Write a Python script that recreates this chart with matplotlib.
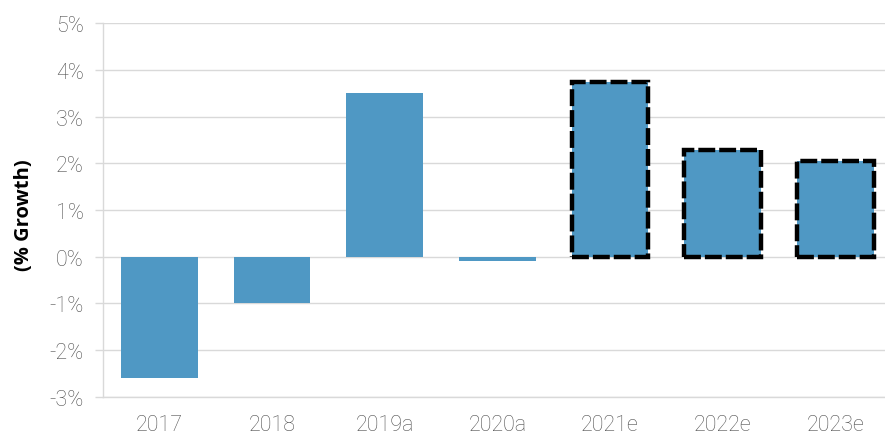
import matplotlib
matplotlib.use("Agg")
import matplotlib.pyplot as plt

# Annual growth, actuals and estimates
categories = ["2017", "2018", "2019a", "2020a", "2021e", "2022e", "2023e"]
growth_pct = [-2.6, -1.0, 3.5, -0.1, 3.73, 2.29, 2.05]
is_estimate = [False, False, False, False, True, True, True]
y_ticks = [-3, -2, -1, 0, 1, 2, 3, 4, 5]

plt.rcParams["font.family"] = ["Roboto", "DejaVu Sans"]

fig = plt.figure(figsize=(8.85, 4.35), dpi=100)
ax = fig.add_axes([0.1164, 0.0851, 0.8913, 0.8597])

bar_color = "#4f98c4"
grid_color = "#d9d9d9"
text_color = "#505050"

x = list(range(len(categories)))
bars = ax.bar(x, growth_pct, width=0.68, color=bar_color, zorder=2)
for b, est in zip(bars, is_estimate):
    if est:
        b.set_edgecolor("black")
        b.set_linewidth(3.2)
        b.set_linestyle((0, (3.8, 0.9)))

ax.set_xlim(-0.5, len(categories) - 0.5)
ax.set_ylim(-3, 5)
ax.set_yticks(y_ticks)
ax.set_yticklabels([f"{t}%" for t in y_ticks], fontweight="light")
ax.set_xticks(x)
ax.set_xticklabels(categories, fontweight="light")

ax.yaxis.grid(True, color=grid_color, linewidth=1.0, zorder=0)
ax.set_axisbelow(True)

for side in ("top", "right"):
    ax.spines[side].set_visible(False)
for side in ("left", "bottom"):
    ax.spines[side].set_color(grid_color)
    ax.spines[side].set_linewidth(1.0)

ax.tick_params(axis="y", colors=grid_color, labelcolor=text_color,
               labelsize=15.5, length=6, width=1.0, pad=8)
ax.tick_params(axis="x", length=0, labelcolor=text_color, labelsize=15.5, pad=12)

ax.set_ylabel("(% Growth)", fontsize=14.5, fontweight="bold", color="black",
              family=["Open Sans", "DejaVu Sans"])
ax.yaxis.set_label_coords(-0.088, 0.49)

fig.savefig("out.png", dpi=100)
